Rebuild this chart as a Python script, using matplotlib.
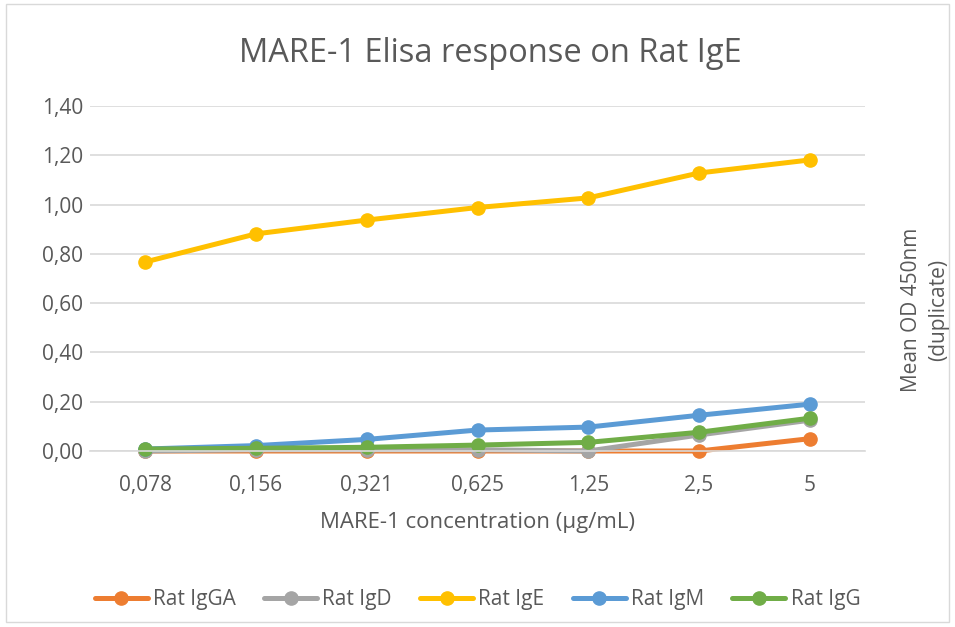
import matplotlib.pyplot as plt
from matplotlib.patches import Rectangle
from matplotlib.ticker import FuncFormatter, MultipleLocator

plt.rcParams['font.family'] = ['Open Sans', 'DejaVu Sans']

concentrations = ["0,078", "0,156", "0,321", "0,625", "1,25", "2,5", "5"]
series_names = ["Rat IgGA", "Rat IgD", "Rat IgE", "Rat IgM", "Rat IgG"]
igga = [0.000, 0.000, 0.000, 0.000, 0.000, 0.000, 0.050]
igd = [0.000, 0.005, 0.005, 0.005, 0.000, 0.065, 0.125]
ige = [0.767, 0.881, 0.937, 0.988, 1.027, 1.128, 1.181]
igm = [0.008, 0.022, 0.047, 0.085, 0.097, 0.145, 0.190]
igg = [0.008, 0.011, 0.015, 0.024, 0.035, 0.076, 0.133]
colors = ["#ED7D31", "#A5A5A5", "#FFC000", "#5B9BD5", "#70AD47"]
grey = "#595959"

fig = plt.figure(figsize=(9.55, 6.27), dpi=100)
ax = fig.add_axes([0.094, 0.2807, 0.812, 0.5503])

x = range(len(concentrations))
for name, vals, c in zip(series_names, [igga, igd, ige, igm, igg], colors):
    ax.plot(x, vals, color=c, lw=3.6, marker="o", ms=9.5,
            label=name, solid_capstyle="round", clip_on=False)

ax.set_xlim(-0.5, len(concentrations) - 0.5)
ax.set_ylim(0, 1.40)
ax.yaxis.set_major_locator(MultipleLocator(0.2))
ax.yaxis.set_major_formatter(FuncFormatter(lambda v, p: f"{v:.2f}".replace(".", ",")))
ax.set_xticks(list(x))
ax.set_xticklabels(concentrations)
ax.grid(axis="y", color="#d9d9d9", lw=1.2)
ax.set_axisbelow(True)
for s in ["top", "right", "left"]:
    ax.spines[s].set_visible(False)
ax.spines["bottom"].set_color("#d9d9d9")
ax.spines["bottom"].set_linewidth(1.2)
ax.tick_params(length=0, labelsize=15, colors=grey)
ax.tick_params(axis="x", pad=17)
ax.tick_params(axis="y", pad=5)

ax.set_xlabel("MARE-1 concentration (µg/mL)", fontsize=16, color=grey, labelpad=12)
fig.text(0.9686, 0.5056, "Mean OD 450nm\n(duplicate)", ha="center", va="center",
         rotation=90, fontsize=15, color=grey, linespacing=1.35)
fig.text(0.513, 0.914, "MARE-1 Elisa response on Rat IgE", ha="center", va="center",
         fontsize=23.5, color=grey)

fig.legend(loc="center", bbox_to_anchor=(0.5, 0.044), ncol=5, frameon=False,
           fontsize=15, labelcolor=grey, handlelength=2.55,
           columnspacing=1.35, handletextpad=0.25)

fig.patches.append(Rectangle((0.006, 0.008), 0.988, 0.985, transform=fig.transFigure,
                             fill=False, edgecolor="#d9d9d9", lw=1))

fig.savefig("out.png", dpi=100)
